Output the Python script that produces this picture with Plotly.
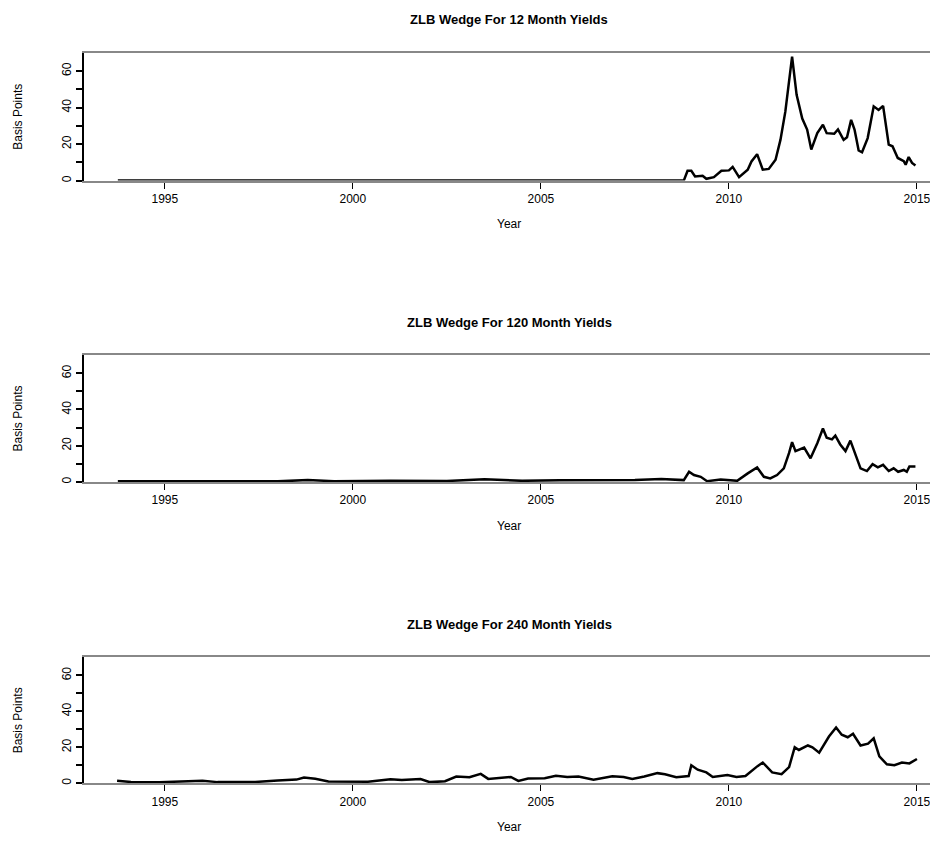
import plotly.graph_objects as go

# 12 month wedge
years_12 = [1993.75, 2008.8, 2008.9, 2009.0, 2009.1, 2009.3, 2009.4, 2009.6, 2009.8, 2010.0,
            2010.1, 2010.27, 2010.5, 2010.6, 2010.75, 2010.9, 2011.06, 2011.24, 2011.37, 2011.5,
            2011.68, 2011.8, 2011.95, 2012.08, 2012.19, 2012.35, 2012.5, 2012.6, 2012.8, 2012.9,
            2013.05, 2013.14, 2013.25, 2013.34, 2013.45, 2013.54, 2013.69, 2013.85, 2013.98, 2014.1,
            2014.25, 2014.35, 2014.49, 2014.65, 2014.7, 2014.78, 2014.87, 2014.96]
wedge_12 = [0, 0, 5.4, 5.4, 2.3, 2.7, 1, 1.9, 5.4, 5.6,
            7.5, 1.9, 6, 10.5, 14.5, 6, 6.4, 11.4, 22.3, 37.8,
            68, 47, 34, 28, 17, 26, 30.6, 26, 25.7, 28,
            22.3, 23.8, 33.3, 28, 16.5, 15.5, 23.3, 40.7, 38.7, 41,
            19.7, 18.8, 12.4, 10.7, 8.7, 12.9, 9.7, 8.3]

# 120 month wedge
years_120 = [1993.75, 1995.0, 1996.5, 1998.0, 1998.8, 1999.5, 2001.0, 2002.5, 2003.5, 2004.5,
             2005.5, 2006.5, 2007.5, 2008.2, 2008.8, 2008.94, 2009.07, 2009.25, 2009.42, 2009.78,
             2010.0, 2010.22, 2010.5, 2010.75, 2010.93, 2011.1, 2011.28, 2011.46, 2011.6, 2011.68,
             2011.77, 2012.0, 2012.17, 2012.35, 2012.5, 2012.6, 2012.74, 2012.83, 2012.96, 2013.1,
             2013.23, 2013.36, 2013.5, 2013.67, 2013.82, 2013.96, 2014.1, 2014.25, 2014.38, 2014.5,
             2014.65, 2014.73, 2014.8, 2014.96]
wedge_120 = [0.3, 0.2, 0.4, 0.3, 1, 0.4, 0.6, 0.5, 1.4, 0.6,
             0.9, 0.8, 1, 1.6, 1, 5.6, 3.8, 2.8, 0.4, 1.3,
             1.1, 0.6, 4.7, 8, 2.8, 1.9, 3.8, 7.5, 16, 22,
             17, 19, 13, 21.4, 29.5, 24.4, 23.5, 25.6, 20.7, 17,
             22.8, 15, 7.5, 6, 9.8, 8, 9.4, 6, 7.5, 5.6,
             6.6, 5.6, 8.5, 8.5]

# 240 month wedge
years_240 = [1993.73, 1994.1, 1994.85, 1995.5, 1996.0, 1996.4, 1997.4, 1998.0, 1998.5, 1998.7,
             1999.0, 1999.35, 1999.9, 2000.4, 2001.0, 2001.3, 2001.8, 2002.05, 2002.45, 2002.75,
             2003.1, 2003.4, 2003.6, 2004.2, 2004.4, 2004.66, 2005.1, 2005.4, 2005.7, 2006.0,
             2006.4, 2006.9, 2007.2, 2007.43, 2007.75, 2008.1, 2008.3, 2008.6, 2008.93, 2009.0,
             2009.17, 2009.4, 2009.57, 2009.96, 2010.2, 2010.44, 2010.76, 2010.9, 2011.15, 2011.4,
             2011.6, 2011.75, 2011.86, 2012.1, 2012.22, 2012.4, 2012.66, 2012.85, 2013.0, 2013.16,
             2013.3, 2013.5, 2013.7, 2013.85, 2014.0, 2014.2, 2014.4, 2014.6, 2014.8, 2015.0]
wedge_240 = [1.3, 0.7, 0.5, 0.8, 1.4, 0.6, 0.7, 1.5, 2, 3.2,
             2.5, 1, 0.7, 0.8, 2.2, 1.8, 2.3, 0.6, 1.1, 3.7,
             3.3, 5.2, 2.4, 3.5, 1.3, 2.6, 2.8, 4.1, 3.5, 3.7,
             2.0, 3.8, 3.5, 2.4, 3.7, 5.6, 5, 3.3, 4, 10,
             7.5, 6, 3.5, 4.5, 3.5, 4, 9.5, 11.5, 6, 5,
             9, 20, 18.5, 21, 20, 17, 26, 31, 27, 25.6,
             27.5, 21, 22, 25, 15, 10.5, 10, 11.5, 11, 13.5]

panels = [
    ("ZLB Wedge For 12 Month Yields", years_12, wedge_12, 173, 45),
    ("ZLB Wedge For 120 Month Yields", years_120, wedge_120, 475, 348),
    ("ZLB Wedge For 240 Month Yields", years_240, wedge_240, 777, 651),
]

W, H = 930, 863
L = 76
PW = W - L
font = "Liberation Sans, Arial, sans-serif"
fig = go.Figure()
layout = dict(width=W, height=H, margin=dict(l=L, r=0, t=0, b=0),
              plot_bgcolor="white", paper_bgcolor="white", showlegend=False,
              font=dict(family=font, size=12, color="black"), annotations=[])

for i, (title, xs, ys, bot, top) in enumerate(panels):
    n = "" if i == 0 else str(i + 1)
    fig.add_trace(go.Scatter(x=xs, y=ys, mode="lines", xaxis="x" + n, yaxis="y" + n,
                             line=dict(color="black", width=2.5)))
    layout["xaxis" + n] = dict(range=[1992.85, 2015.56], domain=[0, 1], anchor="y" + n,
                               tickvals=[1995, 2000, 2005, 2010, 2015], ticks="outside",
                               ticklen=6, tickcolor="black", showgrid=False, zeroline=False,
                               showline=True, linecolor="#888888", linewidth=2, mirror=True,
                               ticklabeloverflow="allow", tickfont=dict(size=12))
    layout["yaxis" + n] = dict(range=[0, 70], domain=[1 - bot / H, 1 - top / H], anchor="x" + n,
                               tickvals=[0, 10, 20, 30, 40, 50, 60],
                               ticktext=["0", "", "20", "", "40", "", "60"],
                               tickangle=-90, ticks="outside", ticklen=6, tickcolor="black",
                               tickwidth=2, showgrid=False, zeroline=False, showline=True,
                               linecolor="black", linewidth=2, tickfont=dict(size=12))
    layout["annotations"] += [
        dict(text="<b>" + title + "</b>", x=(501 - L) / PW, y=1 - (top - 33) / H,
             xref="paper", yref="paper", yanchor="middle", showarrow=False, font=dict(size=13)),
        dict(text="Year", x=(501 - L) / PW, y=1 - (bot + 44) / H, xref="paper", yref="paper",
             yanchor="middle", showarrow=False, font=dict(size=12)),
        dict(text="Basis Points", x=(10 - L) / PW, y=1 - (bot + top) / 2 / H,
             xref="paper", yref="paper", xanchor="center", yanchor="middle",
             showarrow=False, textangle=-90, font=dict(size=12)),
    ]

fig.update_layout(**layout)
fig.write_html("out.html")
